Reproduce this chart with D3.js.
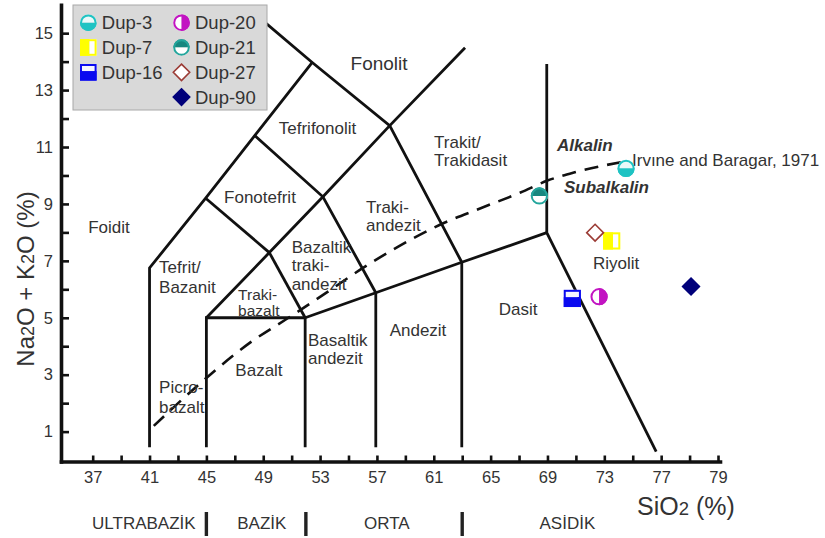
<!DOCTYPE html>
<html>
<head>
<meta charset="utf-8">
<script src="https://cdn.jsdelivr.net/npm/d3@7"></script>
<style>
  html, body { margin: 0; padding: 0; background: #fff; }
  svg { display: block; font-family: "Liberation Sans", Arial, sans-serif; }
  .lbl { fill: #333; font-size: 17px; }
</style>
</head>
<body>
<svg id="chart" width="825" height="538"></svg>
<script>
// TAS diagram (SiO2 vs Na2O+K2O), Le Bas style fields, Turkish labels.

// axis ticks
const xTicks = [37, 39, 41, 43, 45, 47, 49, 51, 53, 55, 57, 59, 61, 63, 65, 67, 69, 71, 73, 75, 77, 79, 81];
const xTickLabeled = [37, 41, 45, 49, 53, 57, 61, 65, 69, 73, 77, 81];
const xTickText = ['37', '41', '45', '49', '53', '57', '61', '65', '69', '73', '77', '79'];
const yTicks = [1, 2, 3, 4, 5, 6, 7, 8, 9, 10, 11, 12, 13, 14, 15];

// field boundaries, [SiO2, alkali]
const boundaries = [
  [[41, 0.45], [41, 6.75], [44.95, 9.2], [48.4, 11.4], [52.45, 13.97]],
  [[48.6, 15.6], [52.45, 13.97], [57.9, 11.75], [62.97, 6.95]],
  [[45, 5], [49.43, 7.29], [53.2, 9.25], [57.9, 11.75], [63.2, 14.49]],
  [[45, 0.45], [45, 5], [51.95, 5], [51.95, 0.45]],
  [[49.43, 7.29], [51.95, 5]],
  [[44.95, 9.2], [49.43, 7.29]],
  [[48.4, 11.4], [53.2, 9.25], [56.92, 5.88]],
  [[51.95, 5], [56.92, 5.88], [62.97, 6.95], [68.95, 7.99]],
  [[56.92, 5.88], [56.92, 0.45]],
  [[62.97, 6.95], [62.97, 0.45]],
  [[68.95, 13.92], [68.95, 7.99], [76.65, 0.3]]
];

// Irvine & Baragar (1971) alkaline / subalkaline divide
const irvineCurve = [
  [41.3, 1.2], [45.1, 2.93], [48, 4.1], [50.9, 5.04], [53.5, 5.9], [55.8, 6.68],
  [58.5, 7.5], [61.4, 8.26], [64.3, 8.85], [67.1, 9.4], [69, 9.82], [71, 10.12], [74.5, 10.5]
];

// field names: text lines, anchor SiO2, alkali (first line), line step px, anchor
const fieldNames = [
  { lines: ['Foidit'], x: 38.15, y: 8.2, anchor: 'middle' },
  { lines: ['Tefrit/', 'Bazanit'], x: 41.67, y: 6.78, step: 20 },
  { lines: ['Picro-', 'bazalt'], x: 41.67, y: 2.56, step: 20 },
  { lines: ['Bazalt'], x: 48.7, y: 3.17, anchor: 'middle' },
  { lines: ['Traki-', 'bazalt'], x: 47.23, y: 5.8, step: 16, size: 15.5 },
  { lines: ['Fonotefrit'], x: 48.77, y: 9.24, anchor: 'middle' },
  { lines: ['Tefrifonolit'], x: 52.82, y: 11.67, anchor: 'middle' },
  { lines: ['Fonolit'], x: 57.15, y: 13.95, anchor: 'middle', size: 19 },
  { lines: ['Bazaltik', 'traki-', 'andezit'], x: 51.0, y: 7.49, step: 18.5 },
  { lines: ['Traki-', 'andezit'], x: 56.23, y: 8.9, step: 18.5 },
  { lines: ['Trakit/', 'Trakidasit'], x: 61.02, y: 11.19, step: 18.5 },
  { lines: ['Basaltik', 'andezit'], x: 52.15, y: 4.22, step: 18 },
  { lines: ['Andezit'], x: 59.89, y: 4.57, anchor: 'middle' },
  { lines: ['Dasit'], x: 66.93, y: 5.31, anchor: 'middle' },
  { lines: ['Riyolit'], x: 73.83, y: 6.93, anchor: 'middle' },
  { lines: ['Alkalin'], x: 69.67, y: 11.07, bold: true },
  { lines: ['Subalkalin'], x: 70.16, y: 9.61, bold: true },
  { lines: ['Irvıne and Baragar, 1971'], x: 74.95, y: 10.54 }
];

// SiO2 classes under the axis
const classNames = ['ULTRABAZİK', 'BAZİK', 'ORTA', 'ASİDİK'];
const classCenters = [40.6, 48.9, 57.7, 70.4];
const classBreaks = [45, 52, 63];

// samples
const sampleNames = ['Dup-3', 'Dup-7', 'Dup-16', 'Dup-20', 'Dup-21', 'Dup-27', 'Dup-90'];
const sampleSiO2 = [74.53, 73.52, 70.75, 72.63, 68.43, 72.35, 79.1];
const sampleAlkali = [10.25, 7.7, 5.68, 5.74, 9.28, 7.99, 6.1];

const symbols = {
  'Dup-3':  { shape: 'circle', split: 'tb', a: '#eaf9f9', b: '#1fc3c3', stroke: '#1fc3c3' },
  'Dup-7':  { shape: 'square', split: 'lr', a: '#ffff00', b: '#ffffff', stroke: '#ffff00' },
  'Dup-16': { shape: 'square', split: 'tb', a: '#f4f4ff', b: '#0a0af0', stroke: '#0a0af0' },
  'Dup-20': { shape: 'circle', split: 'lr', a: '#ffffff', b: '#c214c2', stroke: '#c214c2' },
  'Dup-21': { shape: 'circle', split: 'tb', a: '#17877f', b: '#ffffff', stroke: '#23a59c' },
  'Dup-27': { shape: 'diamond', fill: '#ffffff', stroke: '#9b3b35' },
  'Dup-90': { shape: 'diamond', fill: '#00007a', stroke: '#00007a' }
};

const svg = d3.select('#chart');
const W = 825, H = 538;
svg.append('rect').attr('width', W).attr('height', H).attr('fill', '#fff');

const x = d3.scaleLinear().domain([34.77, 81.14]).range([61, 720]);
const y = d3.scaleLinear().domain([-0.05, 16]).range([461.5, 4.7]);

// axes
const xAxis = svg.append('g').attr('transform', `translate(0,${y(-0.05)})`)
  .call(d3.axisBottom(x).tickValues(xTicks).tickSizeInner(-6).tickSizeOuter(0).tickPadding(10)
    .tickFormat(d => { const i = xTickLabeled.indexOf(d); return i < 0 ? '' : xTickText[i]; }));
const yAxis = svg.append('g').attr('transform', `translate(${x(34.77)},0)`)
  .call(d3.axisLeft(y).tickValues(yTicks).tickSizeInner(-8).tickSizeOuter(0).tickPadding(8)
    .tickFormat(d => d % 2 ? d : ''));
[xAxis, yAxis].forEach(g => {
  g.select('.domain').attr('stroke', '#111').attr('stroke-width', 3.6).attr('stroke-linecap', 'square');
  g.selectAll('.tick line').attr('stroke', '#111').attr('stroke-width', 2.6);
  g.selectAll('.tick text').attr('fill', '#333').style('font-size', '16.5px')
    .style('font-family', '"Liberation Sans", Arial, sans-serif');
});

// field boundaries
const line = d3.line().x(d => x(d[0])).y(d => y(d[1]));
svg.append('g').selectAll('path').data(boundaries).join('path')
  .attr('d', line).attr('fill', 'none').attr('stroke', '#111')
  .attr('stroke-width', 2.8).attr('stroke-linejoin', 'miter');

// alkaline divide
svg.append('path').datum(irvineCurve)
  .attr('d', d3.line().x(d => x(d[0])).y(d => y(d[1])).curve(d3.curveMonotoneX))
  .attr('fill', 'none').attr('stroke', '#111').attr('stroke-width', 2.6)
  .attr('stroke-dasharray', '14,9');

// field names
const names = svg.append('g');
fieldNames.forEach(f => {
  const t = names.append('text').attr('class', 'lbl')
    .attr('x', x(f.x)).attr('y', y(f.y)).attr('dy', '0.35em')
    .attr('text-anchor', f.anchor || 'start');
  if (f.size) t.style('font-size', f.size + 'px');
  if (f.bold) t.style('font-weight', 'bold').style('font-style', 'italic');
  f.lines.forEach((s, i) => {
    t.append('tspan').attr('x', x(f.x)).attr('dy', i ? f.step : null).text(s);
  });
});

// symbols
function drawSymbol(g, s, r) {
  if (s.shape === 'circle') {
    const p1 = s.split === 'tb' ? `M${-r},0A${r},${r} 0 0 1 ${r},0Z` : `M0,${-r}A${r},${r} 0 0 0 0,${r}Z`;
    const p2 = s.split === 'tb' ? `M${-r},0A${r},${r} 0 0 0 ${r},0Z` : `M0,${-r}A${r},${r} 0 0 1 0,${r}Z`;
    g.append('path').attr('d', p1).attr('fill', s.a);
    g.append('path').attr('d', p2).attr('fill', s.b);
    g.append('circle').attr('r', r - 1).attr('fill', 'none').attr('stroke', s.stroke).attr('stroke-width', 2);
  } else if (s.shape === 'square') {
    const h = r;
    if (s.split === 'tb') {
      g.append('rect').attr('x', -h).attr('y', -h).attr('width', 2 * h).attr('height', h * 0.85).attr('fill', s.a);
      g.append('rect').attr('x', -h).attr('y', -h + h * 0.85).attr('width', 2 * h).attr('height', h * 1.15).attr('fill', s.b);
    } else {
      g.append('rect').attr('x', -h).attr('y', -h).attr('width', h * 1.15).attr('height', 2 * h).attr('fill', s.a);
      g.append('rect').attr('x', -h + h * 1.15).attr('y', -h).attr('width', h * 0.85).attr('height', 2 * h).attr('fill', s.b);
    }
    g.append('rect').attr('x', -h + 1).attr('y', -h + 1).attr('width', 2 * h - 2).attr('height', 2 * h - 2)
      .attr('fill', 'none').attr('stroke', s.stroke).attr('stroke-width', 2);
  } else {
    g.append('path').attr('d', `M0,${-r}L${r},0L0,${r}L${-r},0Z`)
      .attr('fill', s.fill).attr('stroke', s.stroke).attr('stroke-width', 1.6);
  }
}
const symSize = { circle: 8.6, square: 8.6, diamond: 8.4 };
sampleNames.forEach((n, i) => {
  const s = symbols[n];
  const g = svg.append('g').attr('transform', `translate(${x(sampleSiO2[i])},${y(sampleAlkali[i])})`);
  drawSymbol(g, s, symSize[s.shape]);
});

// legend
const leg = svg.append('g').attr('transform', 'translate(73,5)');
leg.append('rect').attr('width', 194).attr('height', 105)
  .attr('fill', '#d9d9d9').attr('stroke', '#a8a8a8').attr('stroke-width', 1);
const legOrder = ['Dup-3', 'Dup-7', 'Dup-16', 'Dup-20', 'Dup-21', 'Dup-27', 'Dup-90'];
legOrder.forEach((n, i) => {
  const col = i < 3 ? 0 : 1, row = i < 3 ? i : i - 3;
  const cx = col ? 108.5 : 15.3, cy = 17.7 + row * 24.8;
  const s = symbols[n];
  drawSymbol(leg.append('g').attr('transform', `translate(${cx},${cy})`), s, s.shape === 'diamond' ? 8.2 : 8.3);
  leg.append('text').attr('x', cx + 13.5).attr('y', cy).attr('dy', '0.36em')
    .attr('fill', '#333').style('font-size', '18.5px').text(n);
});

// axis titles
const xt = svg.append('text').attr('x', 637).attr('y', 515).attr('fill', '#333').style('font-size', '25px');
xt.append('tspan').text('SiO');
xt.append('tspan').style('font-size', '18.5px').text('2');
xt.append('tspan').text(' (%)');

const yt = svg.append('text').attr('transform', 'translate(34,279) rotate(-90)')
  .attr('text-anchor', 'middle').attr('fill', '#333').style('font-size', '24px');
[['Na', 0], ['2', 1], ['O + K', 0], ['2', 1], ['O (%)', 0]].forEach(([s, sub]) => {
  const ts = yt.append('tspan').text(s);
  if (sub) ts.style('font-size', '18px');
});

// SiO2 classes
const cls = svg.append('g');
cls.selectAll('text').data(classNames).join('text').attr('class', 'lbl')
  .attr('x', (d, i) => x(classCenters[i])).attr('y', 529).attr('text-anchor', 'middle').text(d => d);
cls.selectAll('line').data(classBreaks).join('line')
  .attr('x1', d => x(d)).attr('x2', d => x(d)).attr('y1', 512).attr('y2', 536)
  .attr('stroke', '#222').attr('stroke-width', 3.4);
</script>
</body>
</html>
